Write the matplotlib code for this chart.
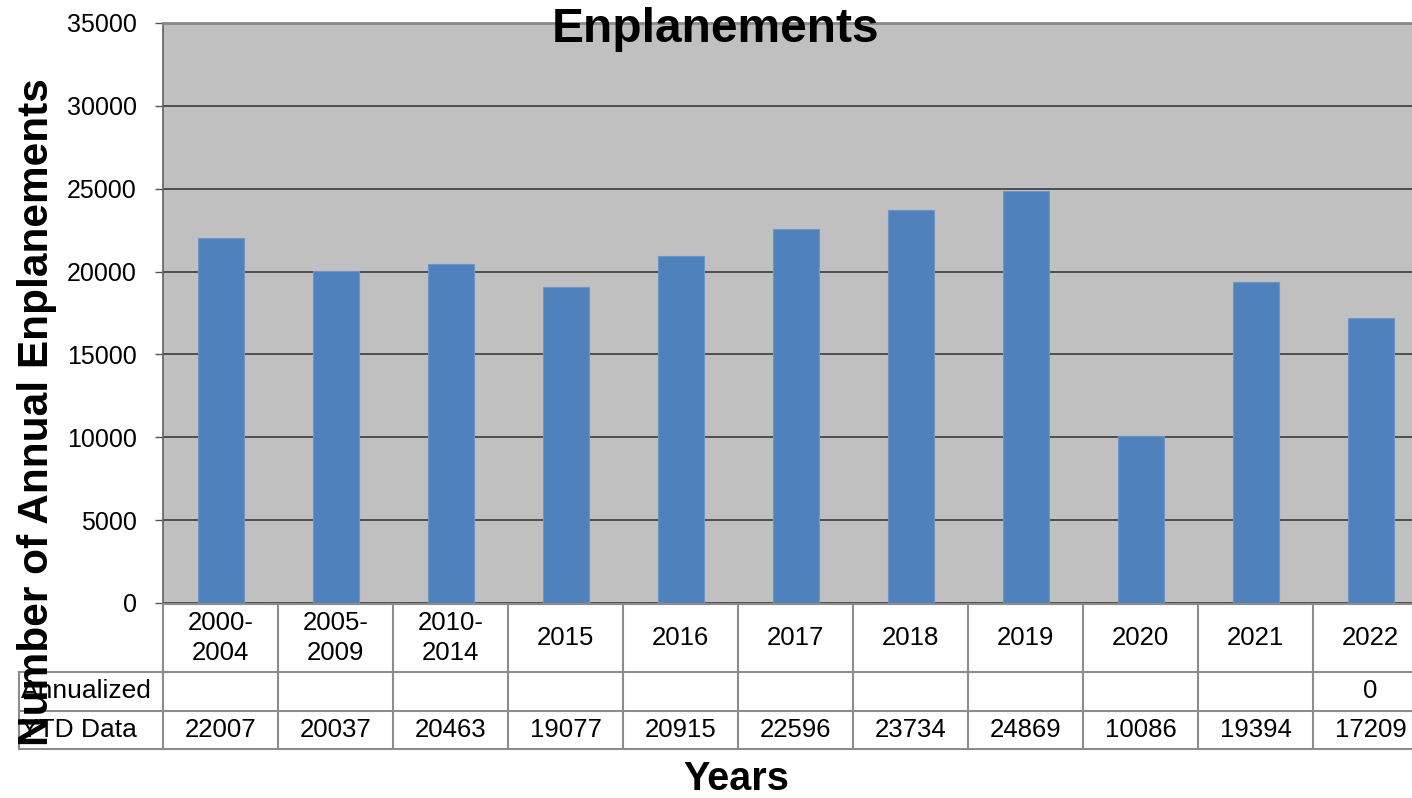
import matplotlib
matplotlib.use("Agg")
import matplotlib.pyplot as plt
import matplotlib.transforms as mtransforms
from matplotlib.lines import Line2D

plt.rcParams["font.family"] = ["Liberation Sans", "DejaVu Sans"]

# data
years = ["2000-\n2004", "2005-\n2009", "2010-\n2014", "2015", "2016", "2017",
         "2018", "2019", "2020", "2021", "2022"]
ytd = [22007, 20037, 20463, 19077, 20915, 22596, 23734, 24869, 10086, 19394, 17209]
annualized = [None] * 10 + [0]
row_labels = ["Annualized", "YTD Data"]
yticks = list(range(0, 35001, 5000))

W, H = 1412, 798
fx = lambda px: px / W
fy = lambda py: 1 - py / H

BAR = "#4F81BD"
GRID = "#303030"
TLINE = "#8c8c8c"

fig = plt.figure(figsize=(W / 100, H / 100), dpi=100)
ax = fig.add_axes([fx(163), fy(603), 1265 / W, 580 / H])
ax.set_facecolor("#C0C0C0")

xs = list(range(len(years)))
ax.bar(xs, ytd, width=0.4, color=BAR, edgecolor="#6d95c8", linewidth=0.8, zorder=3)
ax.set_xlim(-0.5, len(years) - 0.5)
ax.set_ylim(0, 35000)
ax.set_yticks(yticks)
ax.set_yticklabels([str(v) for v in yticks], fontsize=18)
ax.tick_params(axis="y", direction="out", length=6, width=1, color="#555555", pad=13)
ax.set_xticks([])
ax.grid(axis="y", color=GRID, linewidth=1.1, zorder=1)
for s in ["right", "bottom"]:
    ax.spines[s].set_visible(False)
ax.spines["top"].set_color("#8a8a8a")
ax.spines["top"].set_linewidth(2)
ax.spines["left"].set_color("#606060")
ax.spines["left"].set_linewidth(1.2)

# data table under the axes
tr = mtransforms.blended_transform_factory(ax.transData, fig.transFigure)
n = len(years)
top, r1, r2, bot = 604, 672, 711, 749
for i in range(n + 1):
    fig.add_artist(Line2D([i - 0.5, i - 0.5], [fy(top), fy(bot)], transform=tr,
                          color=TLINE, linewidth=1.5))
for py in [top, r1, r2, bot]:
    fig.add_artist(Line2D([-0.5, n - 0.5], [fy(py), fy(py)], transform=tr,
                          color=TLINE, linewidth=1.5))
for py in [r1, r2, bot]:
    fig.add_artist(Line2D([fx(19), fx(163)], [fy(py), fy(py)], transform=fig.transFigure,
                          color=TLINE, linewidth=1.5))
fig.add_artist(Line2D([fx(19), fx(19)], [fy(r1), fy(bot)], transform=fig.transFigure,
                      color=TLINE, linewidth=1.5))

for i, lab in enumerate(years):
    fig.text(i, fy((top + r1) / 2), lab, transform=tr, ha="center", va="center",
             fontsize=18.5, linespacing=1.3)
for i, v in enumerate(annualized):
    if v is not None:
        fig.text(i, fy((r1 + r2) / 2), str(v), transform=tr, ha="center", va="center",
                 fontsize=18.5)
for i, v in enumerate(ytd):
    fig.text(i, fy((r2 + bot) / 2), str(v), transform=tr, ha="center", va="center",
             fontsize=18.5)
for lab, py in zip(row_labels, [(r1 + r2) / 2, (r2 + bot) / 2]):
    fig.text(fx(21), fy(py), lab, ha="left", va="center", fontsize=19)

fig.text(fx(716), fy(42), "Enplanements", ha="center", va="baseline",
         fontsize=34.5, fontweight="bold")
fig.text(fx(736), fy(790), "Years", ha="center", va="baseline",
         fontsize=28.5, fontweight="bold")
fig.text(fx(37), fy(412), "Number of Annual Enplanements", rotation=90,
         ha="center", va="center", fontsize=30.5, fontweight="bold")

fig.savefig("out.png", dpi=100)
